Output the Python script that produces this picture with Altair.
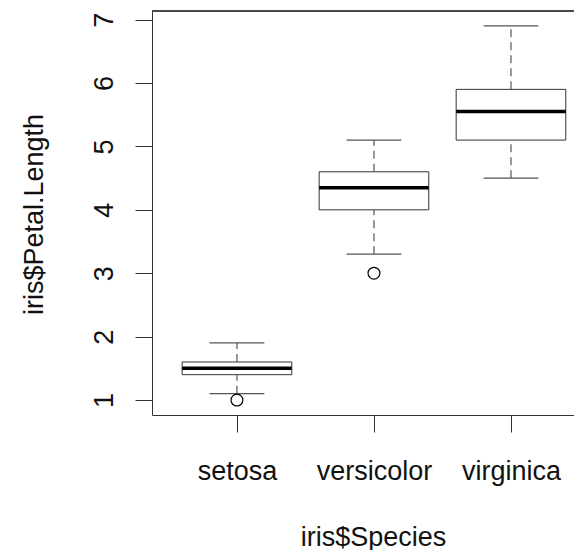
import altair as alt
import pandas as pd

# --- data ---
species = ["setosa", "versicolor", "virginica"]
positions = [1, 2, 3]
lower_whisker = [1.1, 3.3, 4.5]
q1 = [1.4, 4.0, 5.1]
median = [1.5, 4.35, 5.55]
q3 = [1.6, 4.6, 5.9]
upper_whisker = [1.9, 5.1, 6.9]
outlier_pos = [1, 2]
outlier_values = [1.0, 3.0]
y_ticks = [1, 2, 3, 4, 5, 6, 7]

boxes = pd.DataFrame({
    "species": species, "pos": positions, "lo": lower_whisker, "q1": q1,
    "med": median, "q3": q3, "hi": upper_whisker,
})
outliers = pd.DataFrame({"pos": outlier_pos, "value": outlier_values})

FONT = "Liberation Sans"
FS = 27
W, H = 422, 404
LINE = "#333333"
WHISK = "#555555"

xscale = alt.Scale(domain=[0.38, 3.46], nice=False, zero=False)
yscale = alt.Scale(domain=[0.764, 7.136], nice=False, zero=False)

label_expr = " : ".join(
    f"datum.value == {p} ? '{s}'" for p, s in zip(positions[:-1], species[:-1])
) + f" : '{species[-1]}'"

x_axis = alt.Axis(
    values=positions, labelExpr=label_expr, title="iris$Species", grid=False,
    tickSize=17, tickColor=LINE, domainColor=LINE, labelFont=FONT, labelFontSize=FS,
    labelColor="#111", labelBaseline="alphabetic", labelPadding=47, labelAlign="center",
    labelFlush=False, labelOverlap=False,
    titleFont=FONT, titleFontSize=FS, titleFontWeight="normal", titleColor="#111",
    titleBaseline="alphabetic", titleX=221, titleY=130, titleAnchor="start", titleAlign="center",
)
y_axis = alt.Axis(
    values=y_ticks, title="iris$Petal.Length", grid=False,
    tickSize=17, tickColor=LINE, domainColor=LINE, labelFont=FONT, labelFontSize=FS,
    labelColor="#111", labelAngle=270, labelAlign="center", labelBaseline="alphabetic",
    labelPadding=23, labelFlush=False, labelOverlap=False,
    titleFont=FONT, titleFontSize=FS, titleFontWeight="normal", titleColor="#111",
    titleAngle=270, titleBaseline="middle", titleAlign="center", titleX=-118, titleY=203,
)

base = alt.Chart(boxes).transform_calculate(
    left="datum.pos - 0.4", right="datum.pos + 0.4",
    sl="datum.pos - 0.2", sr="datum.pos + 0.2",
)


def X(field):
    return alt.X(field, type="quantitative", scale=xscale, axis=x_axis)


def Y(field):
    return alt.Y(field, type="quantitative", scale=yscale, axis=y_axis)


rect = base.mark_rect(fill="white", stroke=LINE, strokeWidth=1).encode(
    x=X("left"), x2="right:Q", y=Y("q1"), y2="q3:Q",
)
med = base.mark_rule(color="black", strokeWidth=3.5).encode(
    x=X("left"), x2="right:Q", y=Y("med"),
)
whisk_hi = base.mark_rule(color=WHISK, strokeWidth=1.2, strokeDash=[8, 5]).encode(
    x=X("pos"), y=Y("q3"), y2="hi:Q",
)
whisk_lo = base.mark_rule(color=WHISK, strokeWidth=1.2, strokeDash=[8, 5]).encode(
    x=X("pos"), y=Y("lo"), y2="q1:Q",
)
staple_hi = base.mark_rule(color=WHISK, strokeWidth=1.2).encode(
    x=X("sl"), x2="sr:Q", y=Y("hi"),
)
staple_lo = base.mark_rule(color=WHISK, strokeWidth=1.2).encode(
    x=X("sl"), x2="sr:Q", y=Y("lo"),
)
pts = alt.Chart(outliers).mark_point(
    shape="circle", filled=False, color="black", size=140, strokeWidth=1.2, opacity=1
).encode(
    x=X("pos"), y=Y("value"),
)
top = alt.Chart(boxes).mark_rule(color=LINE, strokeWidth=1).encode(
    x=alt.value(0), x2=alt.value(W), y=alt.value(0)
)

chart = alt.layer(rect, whisk_hi, whisk_lo, staple_hi, staple_lo, med, pts, top).properties(
    width=W, height=H,
    autosize=alt.AutoSizeParams(type="none"),
    padding={"left": 144, "top": 3, "right": 0, "bottom": 135},
).configure_view(strokeOpacity=0, strokeWidth=0).configure(background="white")

chart.save("out.html", embed_options={"renderer": "svg", "actions": False})
